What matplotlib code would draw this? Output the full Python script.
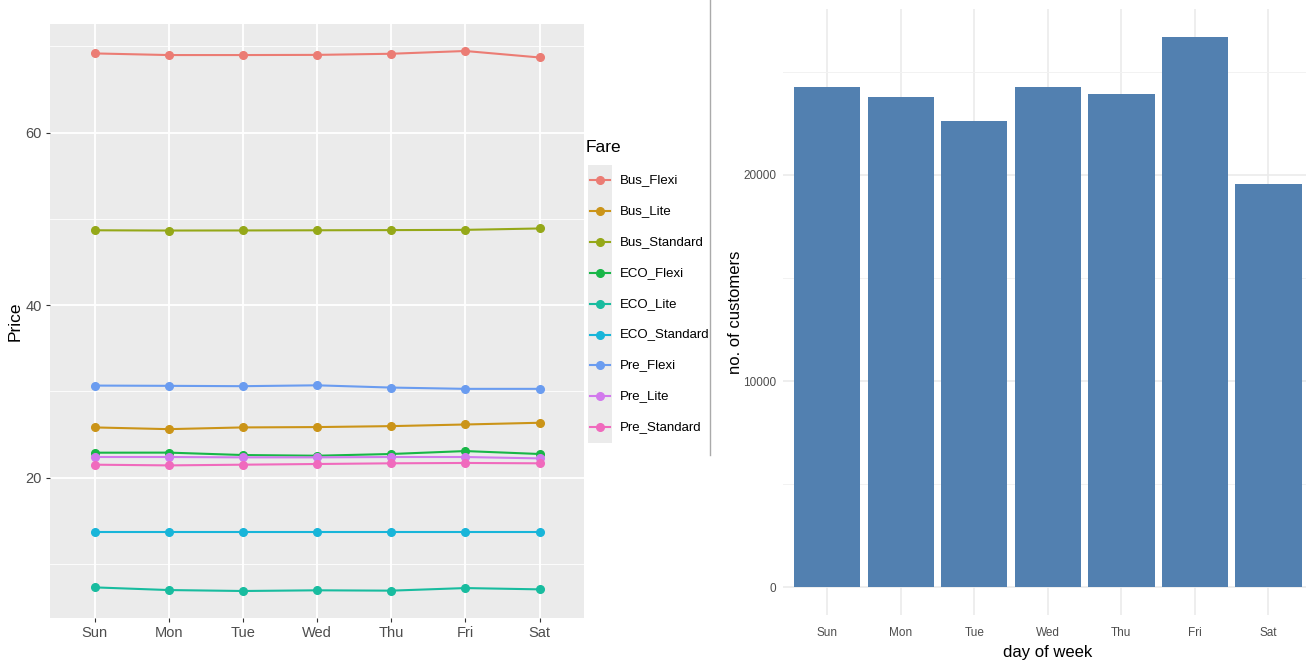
import numpy as np
import matplotlib
matplotlib.use("Agg")
import matplotlib.pyplot as plt
import matplotlib.colors as mcolors
from matplotlib.lines import Line2D
from matplotlib.patches import Rectangle

plt.rcParams['font.family'] = ['Liberation Sans', 'DejaVu Sans']

days = ["Sun", "Mon", "Tue", "Wed", "Thu", "Fri", "Sat"]

fares = ["Bus_Flexi", "Bus_Lite", "Bus_Standard", "ECO_Flexi", "ECO_Lite",
         "ECO_Standard", "Pre_Flexi", "Pre_Lite", "Pre_Standard"]
fare_colors = ["#F8766D", "#D39200", "#93AA00", "#00BA38", "#00C19F",
               "#00B9E3", "#619CFF", "#DB72FB", "#FF61C3"]

bus_flexi = [69.17, 68.98, 68.98, 69.00, 69.13, 69.45, 68.70]
bus_lite = [25.82, 25.62, 25.82, 25.86, 25.97, 26.16, 26.36]
bus_standard = [48.67, 48.64, 48.65, 48.67, 48.69, 48.72, 48.88]
eco_flexi = [22.89, 22.90, 22.62, 22.54, 22.74, 23.08, 22.74]
eco_lite = [7.28, 6.97, 6.86, 6.94, 6.90, 7.20, 7.05]
eco_standard = [13.68, 13.68, 13.68, 13.68, 13.68, 13.68, 13.68]
pre_flexi = [30.67, 30.64, 30.60, 30.70, 30.44, 30.29, 30.29]
pre_lite = [22.39, 22.39, 22.35, 22.35, 22.39, 22.39, 22.23]
pre_standard = [21.50, 21.42, 21.50, 21.58, 21.66, 21.70, 21.66]
prices = [bus_flexi, bus_lite, bus_standard, eco_flexi, eco_lite,
          eco_standard, pre_flexi, pre_lite, pre_standard]

customers = [24280, 23760, 22620, 24280, 23940, 26690, 19550]

W, H = 1306, 670
fig = plt.figure(figsize=(W / 100, H / 100), dpi=100)

def box(x0, y0, x1, y1):
    return [x0 / W, 1 - y1 / H, (x1 - x0) / W, (y1 - y0) / H]

# screenshot colours look a bit washed out
def soften(c, k=0.15):
    rgb = np.array(mcolors.to_rgb(c))
    return tuple(rgb * (1 - k) + np.array([0.62, 0.62, 0.62]) * k)

cols = [soften(c) for c in fare_colors]

# ---- left: price per fare ----
ax1 = fig.add_axes(box(50, 24, 584, 618))
ax1.set_facecolor("#EBEBEB")
x = np.arange(len(days))
for name, col, vals in zip(fares, cols, prices):
    ax1.plot(x, vals, color=col, lw=1.5, marker="o", ms=5.5, zorder=3)

allv = np.concatenate(prices)
pad = 0.05 * (allv.max() - allv.min())
ax1.set_ylim(allv.min() - pad, allv.max() + pad)
ax1.set_xlim(-0.6, len(days) - 0.4)
ax1.set_xticks(x)
ax1.set_xticklabels(days)
ax1.set_yticks([20, 40, 60])
ax1.set_yticks([10, 30, 50, 70], minor=True)
ax1.grid(True, which="major", color="white", lw=1.3)
ax1.grid(True, which="minor", axis="y", color="white", lw=0.6)
ax1.set_axisbelow(True)
ax1.tick_params(which="major", length=3, color="#333333", labelcolor="#4D4D4D",
                labelsize=10.5, pad=3)
ax1.tick_params(which="minor", length=0)
for s in ax1.spines.values():
    s.set_visible(False)
ax1.set_ylabel("Price", fontsize=12.5, va="center")
ax1.yaxis.set_label_coords((15 - 50) / 534, 0.5)

# legend drawn by hand, ggplot style
fig.text(586 / W, 1 - 147 / H, "Fare", fontsize=12.5, va="center", ha="left")
fig.add_artist(Rectangle((588 / W, 1 - 443 / H), 24 / W, 278 / H,
                         transform=fig.transFigure, color="#EBEBEB", lw=0))
for i, (name, col) in enumerate(zip(fares, cols)):
    yy = 1 - (180 + i * 30.9) / H
    fig.add_artist(Line2D([590 / W, 610 / W], [yy, yy], color=col, lw=1.5,
                          transform=fig.transFigure))
    fig.add_artist(Line2D([600 / W], [yy], color=col, marker="o", ms=5.5,
                          transform=fig.transFigure))
    fig.text(620 / W, yy, name, fontsize=9.5, va="center", ha="left")

# separator
fig.add_artist(Line2D([710 / W, 710 / W], [1, 1 - 455 / H], color="#AAAAAA",
                      lw=1, transform=fig.transFigure))

# ---- right: customers per day ----
ax2 = fig.add_axes(box(783.2, 9.5, 1312.6, 614.8))
ax2.bar(x, customers, width=0.9, color="#5280B0", zorder=3)
top = max(customers)
ax2.set_ylim(-0.05 * top, top * 1.05)
ax2.set_xlim(-0.6, len(days) - 0.4)
ax2.set_xticks(x)
ax2.set_xticklabels(days)
ax2.set_yticks([0, 10000, 20000])
ax2.set_yticks([5000, 15000, 25000], minor=True)
ax2.grid(True, which="major", color="#EBEBEB", lw=1.2)
ax2.grid(True, which="minor", axis="y", color="#F2F2F2", lw=0.7)
ax2.set_axisbelow(True)
ax2.tick_params(which="both", length=0, labelcolor="#4D4D4D", labelsize=8.5)
ax2.tick_params(axis="y", pad=5)
ax2.tick_params(axis="x", pad=9)
for s in ax2.spines.values():
    s.set_visible(False)
ax2.set_xlabel("day of week", fontsize=12, va="center")
ax2.xaxis.set_label_coords(0.5, (614.8 - 652) / 605.3)
ax2.set_ylabel("no. of customers", fontsize=12, va="center")
ax2.yaxis.set_label_coords((736 - 783.2) / 529.4, 0.5)

fig.savefig("out.png", dpi=100)
